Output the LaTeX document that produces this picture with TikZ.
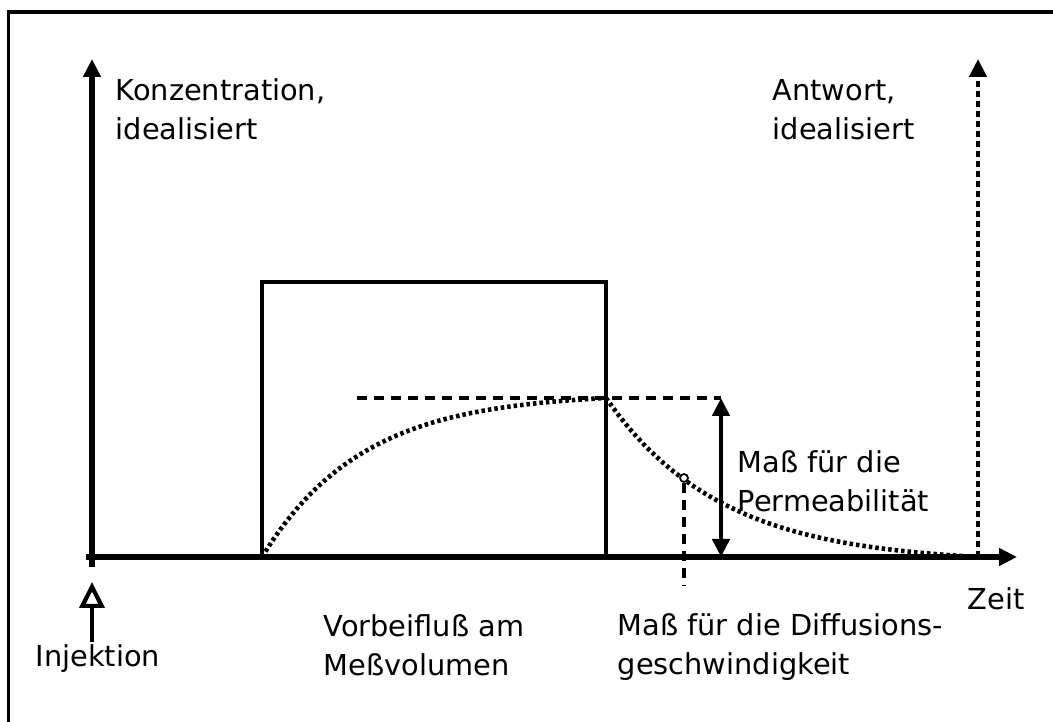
\documentclass[tikz,border=0pt]{standalone}
\usepackage{fontspec}
\setmainfont{DejaVu Sans}
\usetikzlibrary{arrows.meta,positioning}

\begin{document}
\begin{tikzpicture}[
  x=0.1mm, y=-0.1mm,
  font=\fontsize{8.2}{11.3}\selectfont,
  >={Triangle[length=1.8mm,width=1.7mm]},
  axis/.style={->, line width=1.6pt},
  frame/.style={line width=0.9pt},
  box/.style={line width=1.2pt},
  guide/.style={line width=1.3pt, dash pattern=on 1mm off 0.7mm},
  curve/.style={line width=1.3pt, dash pattern=on 0.35mm off 0.3mm},
  measure/.style={<->, line width=1.3pt},
  txt/.style={anchor=base west, align=left, inner sep=0pt}
]

\useasboundingbox (0,0) rectangle (1053,722);

% frame, only its left and upper edges show
\draw[frame] (8.5,722) |- (1053,12);

% axes
\coordinate (ybot) at (92,567);
\coordinate (ytop) at (92,59);
\coordinate (xleft) at (86,557);
\coordinate (xright) at (1017,557);
\coordinate (rbot) at (978,557);
\coordinate (rtop) at (978,59);
\draw[axis] (ybot) -- (ytop);
\draw[axis] (xleft) -- (xright);
\draw[axis, dash pattern=on 0.6mm off 0.4mm, line width=1.2pt] (rbot) -- (rtop);

% pulse
\coordinate (pa) at (262,557);
\coordinate (pb) at (606,557);
\draw[box] (pa) -- (262,282) -- (606,282) -- (pb);

% response, idealised
\coordinate (peak) at (606,398);
\draw[curve] plot[domain=262:606, samples=60]
  (\x, {557-159*(1-exp(-(\x-262)/100))/(1-exp(-3.44))});
\draw[curve] plot[domain=606:978, samples=60]
  (\x, {398+159*(1-exp(-(\x-606)/115))/(1-exp(-372/115))});

% permeability
\coordinate (dleft) at (357,398);
\coordinate (dtop) at (721,398);
\coordinate (dbot) at (721,557);
\draw[guide] (dleft) -- (dtop);
\draw[measure] (dtop) -- (dbot);

% diffusion rate
\node[circle, draw, fill=white, line width=0.5pt, minimum size=0.8mm, inner sep=0pt] (mark) at (684,478) {};
\coordinate (mbot) at (684,585);
\draw[guide] (mark.south) -- (mbot);

% injection
\coordinate (ibot) at (92,642);
\coordinate (itop) at (92,582);
\draw[-{Triangle[open,length=2.6mm,width=2.5mm]}, line width=1.2pt] (ibot) -- (itop);

% texts
\node[txt] (conc) at (115,140) {Konzentration,\\idealisiert};
\node[txt] (resp) at (772,140) {Antwort,\\idealisiert};
\node[txt] (perm) at (737,512) {Maß für die\\Permeabilität};
\node[txt] (time) at (967,610) {Zeit};
\node[txt] (inj) at (35,667) {Injektion};
\node[txt] (flow) at (323,676) {Vorbeifluß am\\Meßvolumen};
\node[txt] (diff) at (617,675) {Maß für die Diffusions-\\geschwindigkeit};

\end{tikzpicture}
\end{document}
